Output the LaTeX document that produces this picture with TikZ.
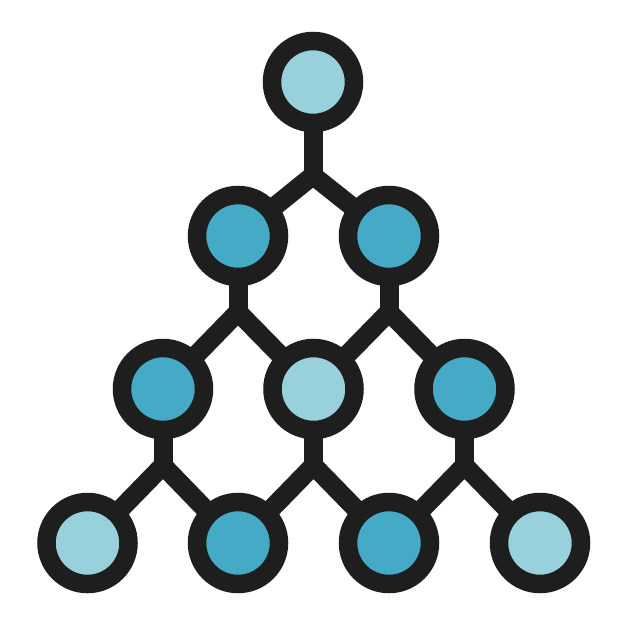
\documentclass[tikz,border=0pt]{standalone}
\definecolor{ringc}{RGB}{30,30,30}
\definecolor{lightc}{RGB}{152,208,220}
\definecolor{darkc}{RGB}{69,170,197}
\begin{document}
\begin{tikzpicture}[x=1pt,y=-1pt,
  link/.style={draw=ringc,line width=19pt,miter limit=10},
  nd/.style={circle,draw=ringc,line width=18.5pt,minimum size=82pt,inner sep=0pt},
  lt/.style={nd,fill=lightc},
  dk/.style={nd,fill=darkc}]
\fill[white] (0,0) rectangle (626,626);
\useasboundingbox (0,0) rectangle (626,626);
% junction coordinates
\coordinate (j1) at (313,175.5);
\coordinate (j2a) at (238,312);
\coordinate (j2b) at (389,312);
\coordinate (j3a) at (163,465.5);
\coordinate (j3b) at (313.5,465.5);
\coordinate (j3c) at (464.5,465.5);
% node positions
\coordinate (p1) at (313,82);
\coordinate (p21) at (238,236);
\coordinate (p22) at (389,236);
\coordinate (p31) at (163,389);
\coordinate (p32) at (313.5,389);
\coordinate (p33) at (464.5,389);
\coordinate (p41) at (87.5,543);
\coordinate (p42) at (238,543);
\coordinate (p43) at (389,543);
\coordinate (p44) at (540,543);
% links
\draw[link] (p1) -- (j1);
\draw[link] (p21) -- (j1) -- (p22);
\draw[link] (p21) -- (j2a);
\draw[link] (p31) -- (j2a) -- (p32);
\draw[link] (p22) -- (j2b);
\draw[link] (p32) -- (j2b) -- (p33);
\draw[link] (p31) -- (j3a);
\draw[link] (p41) -- (j3a) -- (p42);
\draw[link] (p32) -- (j3b);
\draw[link] (p42) -- (j3b) -- (p43);
\draw[link] (p33) -- (j3c);
\draw[link] (p43) -- (j3c) -- (p44);
% nodes
\node[lt] (n1) at (p1) {};
\node[dk] (n21) at (p21) {};
\node[dk] (n22) at (p22) {};
\node[dk] (n31) at (p31) {};
\node[lt] (n32) at (p32) {};
\node[dk] (n33) at (p33) {};
\node[lt] (n41) at (p41) {};
\node[dk] (n42) at (p42) {};
\node[dk] (n43) at (p43) {};
\node[lt] (n44) at (p44) {};
\end{tikzpicture}
\end{document}
